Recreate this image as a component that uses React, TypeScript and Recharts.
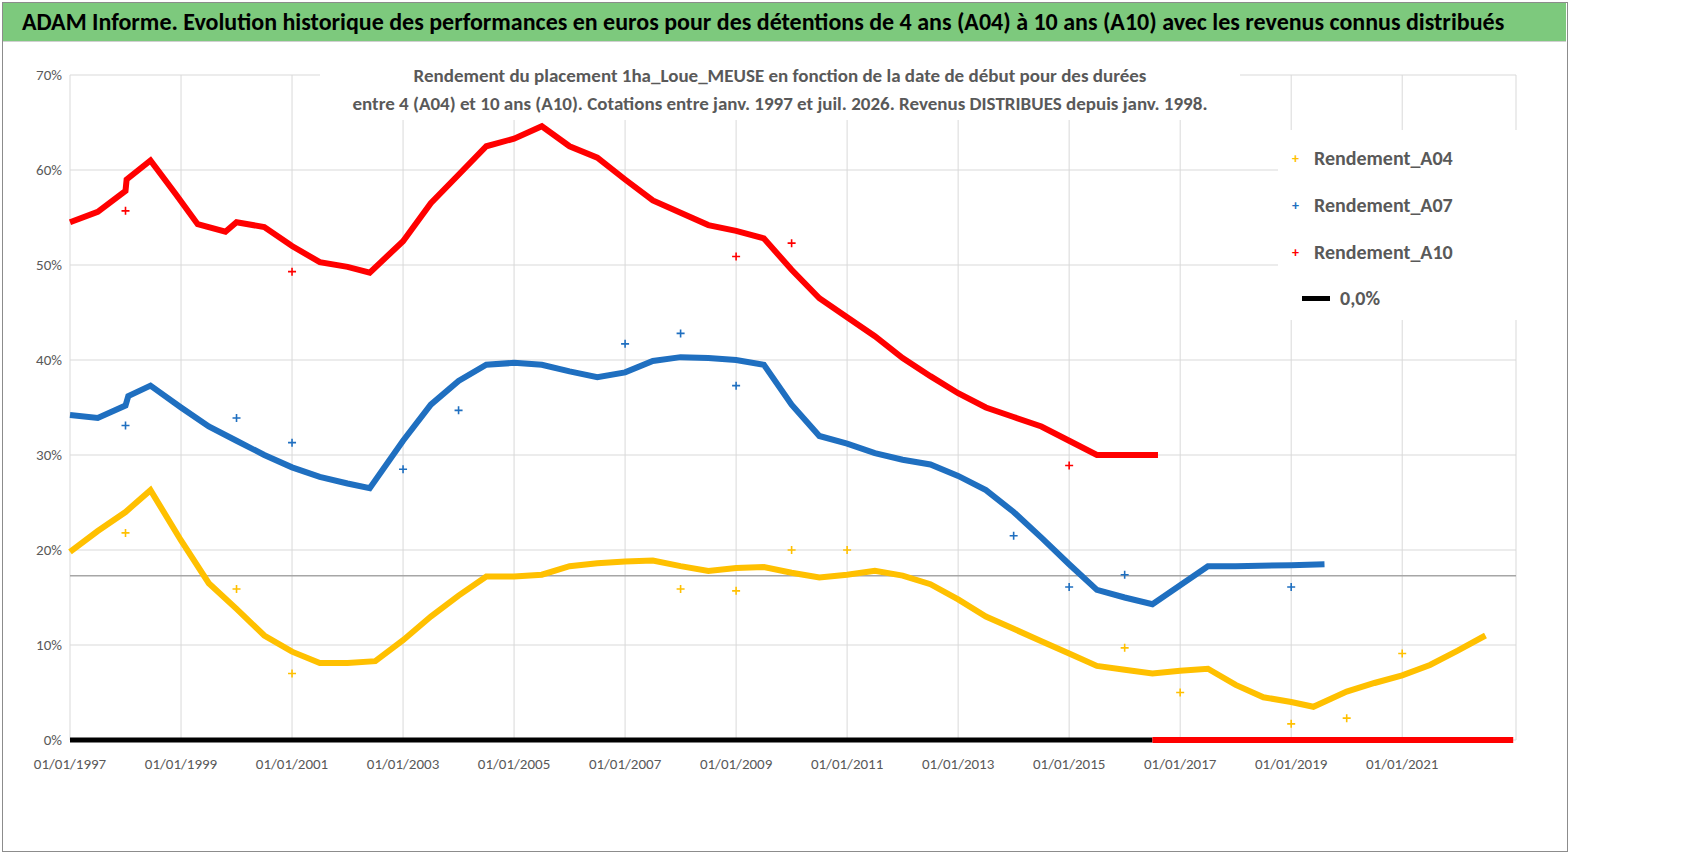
import React from 'react';
import {
  ComposedChart,
  Line,
  Scatter,
  XAxis,
  YAxis,
  CartesianGrid,
  ReferenceLine,
} from 'recharts';

// [année décimale, rendement %]
const a10Curve = [
  [1997, 54.5], [1997.5, 55.6], [1998, 57.8], [1998.02, 59], [1998.45, 61], [1998.9, 57.5], [1999.3, 54.3],
  [1999.8, 53.5], [2000, 54.5], [2000.5, 54], [2001, 52], [2001.5, 50.3], [2002, 49.8], [2002.4, 49.2],
  [2003, 52.5], [2003.5, 56.5], [2004, 59.5], [2004.5, 62.5], [2005, 63.3], [2005.5, 64.6], [2006, 62.5],
  [2006.5, 61.3], [2007, 59], [2007.5, 56.8], [2008, 55.5], [2008.5, 54.2], [2009, 53.6], [2009.5, 52.8],
  [2010, 49.5], [2010.5, 46.5], [2011, 44.5], [2011.5, 42.5], [2012, 40.2], [2012.5, 38.3], [2013, 36.5],
  [2013.5, 35], [2014, 34], [2014.5, 33], [2015, 31.5], [2015.5, 30], [2016, 30], [2016.6, 30],
];
const a10Outliers = [[1998, 55.7], [2001, 49.3], [2009, 50.9], [2010, 52.3], [2015, 28.9]];

const a07Curve = [
  [1997, 34.2], [1997.5, 33.9], [1998, 35.2], [1998.05, 36.2], [1998.45, 37.3], [1999, 35], [1999.5, 33],
  [2000, 31.5], [2000.5, 30], [2001, 28.7], [2001.5, 27.7], [2002, 27], [2002.4, 26.5], [2003, 31.5],
  [2003.5, 35.3], [2004, 37.8], [2004.5, 39.5], [2005, 39.7], [2005.5, 39.5], [2006, 38.8], [2006.5, 38.2],
  [2007, 38.7], [2007.5, 39.9], [2008, 40.3], [2008.5, 40.2], [2009, 40], [2009.5, 39.5], [2010, 35.3],
  [2010.5, 32], [2011, 31.2], [2011.5, 30.2], [2012, 29.5], [2012.5, 29], [2013, 27.8], [2013.5, 26.3],
  [2014, 24], [2014.5, 21.3], [2015, 18.5], [2015.5, 15.8], [2016, 15], [2016.5, 14.3], [2017, 16.3],
  [2017.5, 18.3], [2018, 18.3], [2019, 18.4], [2019.6, 18.5],
];
const a07Outliers = [
  [1998, 33.1], [2000, 33.9], [2001, 31.3], [2003, 28.5], [2004, 34.7], [2007, 41.7], [2008, 42.8],
  [2009, 37.3], [2014, 21.5], [2015, 16.1], [2016, 17.4], [2019, 16.1],
];

const a04Curve = [
  [1997, 19.8], [1997.5, 22], [1998, 24], [1998.45, 26.3], [1999, 21], [1999.5, 16.5], [2000, 13.8],
  [2000.5, 11], [2001, 9.3], [2001.5, 8.1], [2002, 8.1], [2002.5, 8.3], [2003, 10.5], [2003.5, 13],
  [2004, 15.2], [2004.5, 17.2], [2005, 17.2], [2005.5, 17.4], [2006, 18.3], [2006.5, 18.6], [2007, 18.8],
  [2007.5, 18.9], [2008, 18.3], [2008.5, 17.8], [2009, 18.1], [2009.5, 18.2], [2010, 17.6], [2010.5, 17.1],
  [2011, 17.4], [2011.5, 17.8], [2012, 17.3], [2012.5, 16.4], [2013, 14.8], [2013.5, 13], [2014, 11.7],
  [2014.5, 10.4], [2015, 9.1], [2015.5, 7.8], [2016, 7.4], [2016.5, 7], [2017, 7.3], [2017.5, 7.5],
  [2018, 5.8], [2018.5, 4.5], [2019, 4], [2019.4, 3.5], [2020, 5.1], [2020.5, 6], [2021, 6.8],
  [2021.5, 7.9], [2022, 9.4], [2022.5, 11],
];
const a04Outliers = [
  [1998, 21.8], [2000, 15.9], [2001, 7], [2008, 15.9], [2009, 15.7], [2010, 20], [2011, 20],
  [2016, 9.7], [2017, 5], [2019, 1.7], [2020, 2.3], [2021, 9.1],
];

const zeroBlack = [[1997, 0], [2016.5, 0]];
const zeroRed = [[2016.5, 0], [2023, 0]];

const xTicks = [1997, 1999, 2001, 2003, 2005, 2007, 2009, 2011, 2013, 2015, 2017, 2019, 2021];
const yTicks = [0, 10, 20, 30, 40, 50, 60, 70];

const toPts = (arr: number[][]) => arr.map(([x, y]) => ({ x, y }));

const FONT = "Calibri, 'Liberation Sans Narrow', 'Open Sans', sans-serif";

const Plus = (color: string) => (props: any) => {
  const { cx, cy } = props;
  return (
    <path d={`M${cx - 4},${cy}H${cx + 4}M${cx},${cy - 4}V${cy + 4}`} stroke={color} strokeWidth={1.6} />
  );
};

const series = [
  { name: 'Rendement_A04', color: '#ffc000', curve: a04Curve, outliers: a04Outliers },
  { name: 'Rendement_A07', color: '#1f6fc0', curve: a07Curve, outliers: a07Outliers },
  { name: 'Rendement_A10', color: '#ff0000', curve: a10Curve, outliers: a10Outliers },
];

export default function App() {
  return (
    <div style={{ position: 'absolute', left: 0, top: 0, width: 1698, height: 856, background: '#fff', fontFamily: FONT }}>
      <div style={{ position: 'absolute', left: 2, top: 2, width: 1564, height: 848, border: '1px solid #8c8c8c' }} />
      <div style={{ position: 'absolute', left: 3, top: 3, width: 1563, height: 38, background: '#7dc97d', borderBottom: '1px solid #d0d0d0' }} />
      <div style={{ position: 'absolute', left: 22, top: 7, fontSize: 24, fontWeight: 700, color: '#000', whiteSpace: 'nowrap' }}>
        ADAM Informe. Evolution historique des performances en euros pour des détentions de 4 ans (A04) à 10 ans (A10) avec les revenus connus distribués
      </div>
      <ComposedChart width={1698} height={856} margin={{ top: 75, right: 182, bottom: 60, left: 10 }} style={{ position: 'absolute', left: 0, top: 0 }}>
        <CartesianGrid stroke="#d9d9d9" />
        <XAxis
          type="number"
          dataKey="x"
          domain={[1997, 2023.05]}
          ticks={xTicks}
          tickFormatter={(v) => `01/01/${v}`}
          tick={{ fill: '#595959', fontSize: 15, fontFamily: FONT }}
          axisLine={false}
          tickLine={false}
          height={56}
          tickMargin={12}
        />
        <YAxis
          type="number"
          dataKey="y"
          domain={[0, 70]}
          ticks={yTicks}
          tickFormatter={(v) => `${v}%`}
          tick={{ fill: '#595959', fontSize: 15, fontFamily: FONT }}
          axisLine={false}
          tickLine={false}
          width={60}
        />
        <ReferenceLine y={17.3} stroke="#a6a6a6" strokeWidth={1.5} />
        {series.map((s) => (
          <Line key={s.name} data={toPts(s.curve)} dataKey="y" type="linear" stroke={s.color} strokeWidth={6} dot={false} isAnimationActive={false} />
        ))}
        {series.map((s) => (
          <Scatter key={s.name + 'o'} data={toPts(s.outliers)} dataKey="y" shape={Plus(s.color)} isAnimationActive={false} />
        ))}
        <Line data={toPts(zeroBlack)} dataKey="y" stroke="#000" strokeWidth={5} dot={false} isAnimationActive={false} />
        <Line data={toPts(zeroRed)} dataKey="y" stroke="#ff0000" strokeWidth={6} dot={false} isAnimationActive={false} />
      </ComposedChart>
      <div style={{ position: 'absolute', left: 320, top: 60, width: 920, background: '#fff', textAlign: 'center', color: '#595959', fontSize: 19, fontWeight: 700, lineHeight: '28px', padding: '2px 0' }}>
        Rendement du placement 1ha_Loue_MEUSE en fonction de la date de début pour des durées<br />
        entre 4 (A04) et 10 ans (A10). Cotations entre janv. 1997 et juil. 2026. Revenus DISTRIBUES depuis janv. 1998.
      </div>
      <div style={{ position: 'absolute', left: 1278, top: 130, width: 244, height: 190, background: '#fff' }}>
        {series.map((s, i) => (
          <div key={s.name} style={{ position: 'absolute', left: 14, top: 16 + i * 47, display: 'flex', alignItems: 'center', fontSize: 20, fontWeight: 700, color: '#595959' }}>
            <span style={{ color: s.color, fontSize: 14, width: 22 }}>+</span>{s.name}
          </div>
        ))}
        <div style={{ position: 'absolute', left: 24, top: 156, display: 'flex', alignItems: 'center', fontSize: 20, fontWeight: 700, color: '#595959' }}>
          <span style={{ display: 'inline-block', width: 28, height: 5, background: '#000', marginRight: 10 }} />0,0%
        </div>
      </div>
    </div>
  );
}
